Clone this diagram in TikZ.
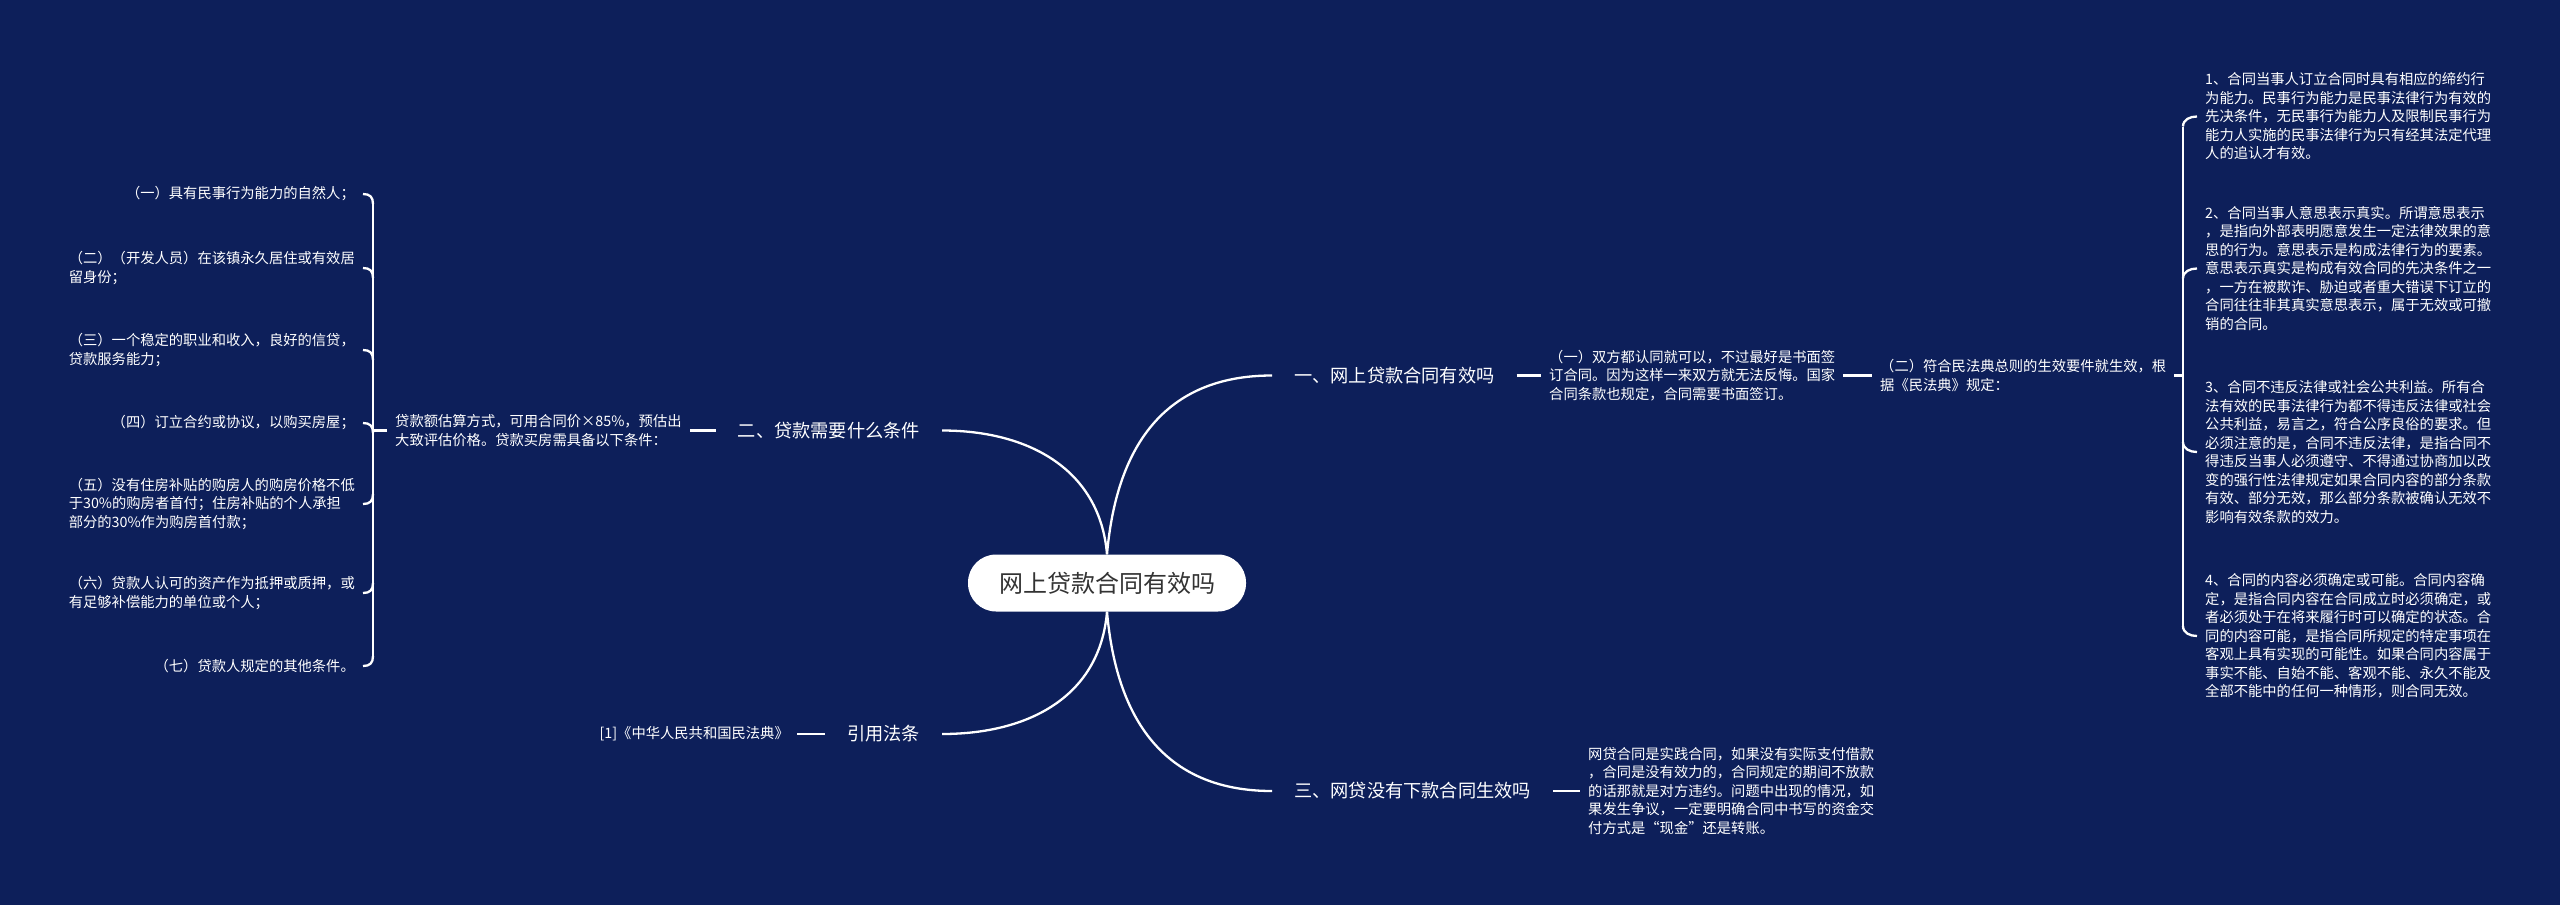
\documentclass[tikz,border=0pt]{standalone}
\usepackage{fontspec}
\newfontfamily\cjk{Noto Sans CJK SC}
\usetikzlibrary{calc}
\definecolor{bg}{RGB}{13,31,90}
\definecolor{roottext}{RGB}{51,51,51}
\begin{document}
\begin{tikzpicture}[x=1pt,y=-1pt,
  conn/.style={draw=white, line width=2.3pt},
  leaf/.style={font=\cjk\fontsize{14.3}{18.5}\selectfont, text=white, align=left, inner xsep=8pt, inner ysep=0pt},
  branch/.style={font=\cjk\fontsize{18.2}{22}\selectfont, text=white, inner xsep=22pt, inner ysep=0pt},
  rootbox/.style={fill=white, rounded corners=28pt, minimum width=278pt, minimum height=57pt, font=\cjk\fontsize{24}{28}\selectfont, text=roottext, inner sep=0pt}
]
\fill[bg] (0,0) rectangle (2560,905);
\useasboundingbox (0,0) rectangle (2560,905);

\coordinate (lbx) at (373,0);
\coordinate (rbx) at (2183,0);

% root and branches
\node[rootbox] (root) at (1107,583) {网上贷款合同有效吗};
\node[branch, anchor=west] (b1) at (1272,375.5) {一、网上贷款合同有效吗};
\node[branch, anchor=east] (b2) at (942,430.5) {二、贷款需要什么条件};
\node[branch, anchor=east] (b3) at (942,734) {引用法条};
\node[branch, anchor=west] (b4) at (1272,791) {三、网贷没有下款合同生效吗};

% branch 1 children
\node[leaf, anchor=west] (a1) at (1541,375.5) {（一）双方都认同就可以，不过最好是书面签\\订合同。因为这样一来双方就无法反悔。国家\\合同条款也规定，合同需要书面签订。};
\node[leaf, anchor=west] (a2) at (1872,375.5) {（二）符合民法典总则的生效要件就生效，根\\据《民法典》规定：};
\node[leaf, anchor=west] (r1) at (2197,116.5) {1、合同当事人订立合同时具有相应的缔约行\\为能力。民事行为能力是民事法律行为有效的\\先决条件，无民事行为能力人及限制民事行为\\能力人实施的民事法律行为只有经其法定代理\\人的追认才有效。};
\node[leaf, anchor=west] (r2) at (2197,268.5) {2、合同当事人意思表示真实。所谓意思表示\\，是指向外部表明愿意发生一定法律效果的意\\思的行为。意思表示是构成法律行为的要素。\\意思表示真实是构成有效合同的先决条件之一\\，一方在被欺诈、胁迫或者重大错误下订立的\\合同往往非其真实意思表示，属于无效或可撤\\销的合同。};
\node[leaf, anchor=west] (r3) at (2197,452) {3、合同不违反法律或社会公共利益。所有合\\法有效的民事法律行为都不得违反法律或社会\\公共利益，易言之，符合公序良俗的要求。但\\必须注意的是，合同不违反法律，是指合同不\\得违反当事人必须遵守、不得通过协商加以改\\变的强行性法律规定如果合同内容的部分条款\\有效、部分无效，那么部分条款被确认无效不\\影响有效条款的效力。};
\node[leaf, anchor=west] (r4) at (2197,636) {4、合同的内容必须确定或可能。合同内容确\\定，是指合同内容在合同成立时必须确定，或\\者必须处于在将来履行时可以确定的状态。合\\同的内容可能，是指合同所规定的特定事项在\\客观上具有实现的可能性。如果合同内容属于\\事实不能、自始不能、客观不能、永久不能及\\全部不能中的任何一种情形，则合同无效。};

% branch 2 children
\node[leaf, anchor=west] (c2) at (387,430.5) {贷款额估算方式，可用合同价×85\%，预估出\\大致评估价格。贷款买房需具备以下条件：};
\node[leaf, anchor=east] (l1) at (363,194) {（一）具有民事行为能力的自然人；};
\node[leaf, anchor=east] (l2) at (363,268) {（二）（开发人员）在该镇永久居住或有效居\\留身份；};
\node[leaf, anchor=east] (l3) at (363,350) {（三）一个稳定的职业和收入，良好的信贷，\\贷款服务能力；};
\node[leaf, anchor=east] (l4) at (363,423) {（四）订立合约或协议，以购买房屋；};
\node[leaf, anchor=east] (l5) at (363,504) {（五）没有住房补贴的购房人的购房价格不低\\于30\%的购房者首付；住房补贴的个人承担\\部分的30\%作为购房首付款；};
\node[leaf, anchor=east] (l6) at (363,593) {（六）贷款人认可的资产作为抵押或质押，或\\有足够补偿能力的单位或个人；};
\node[leaf, anchor=east] (l7) at (363,666) {（七）贷款人规定的其他条件。};

% other children
\node[leaf, anchor=east] (c3) at (797,734) {[1]《中华人民共和国民法典》};
\node[leaf, anchor=west] (c4) at (1580,791) {网贷合同是实践合同，如果没有实际支付借款\\，合同是没有效力的，合同规定的期间不放款\\的话那就是对方违约。问题中出现的情况，如\\果发生争议，一定要明确合同中书写的资金交\\付方式是“现金”还是转账。};

% root curves
\draw[conn] (root.north) .. controls +(10,-115) and +(-102,0) .. (b1.west);
\draw[conn] (root.north) .. controls +(-7,-84) and +(88,0) .. (b2.east);
\draw[conn] (root.south) .. controls +(-7,84) and +(88,0) .. (b3.east);
\draw[conn] (root.south) .. controls +(10,115) and +(-102,0) .. (b4.west);

% short links
\draw[conn] (b1.east) -- (a1.west);
\draw[conn] (a1.east) -- (a2.west);
\draw[conn] (a2.east) -- (a2.east -| rbx);
\draw[conn] (b2.west) -- (c2.east);
\draw[conn] (c2.west) -- (c2.west -| lbx);
\draw[conn] (b3.west) -- (c3.east);
\draw[conn] (b4.east) -- (c4.west);

% left bracket
\draw[conn] ($(l1.east)+(10,10)$) -- ($(l7.east)+(10,-10)$);
\foreach \n in {l1,l2,l3,l4}
  \draw[conn] (\n.east) .. controls +(7,0) and +(0,-7) .. ($(\n.east)+(10,10)$);
\foreach \n in {l5,l6,l7}
  \draw[conn] (\n.east) .. controls +(7,0) and +(0,7) .. ($(\n.east)+(10,-10)$);

% right bracket
\draw[conn] ($(r1.west)+(-14,10)$) -- ($(r4.west)+(-14,-10)$);
\foreach \n in {r1,r2}
  \draw[conn] (\n.west) .. controls +(-7,0) and +(0,-7) .. ($(\n.west)+(-14,10)$);
\foreach \n in {r3,r4}
  \draw[conn] (\n.west) .. controls +(-7,0) and +(0,7) .. ($(\n.west)+(-14,-10)$);
\end{tikzpicture}
\end{document}
